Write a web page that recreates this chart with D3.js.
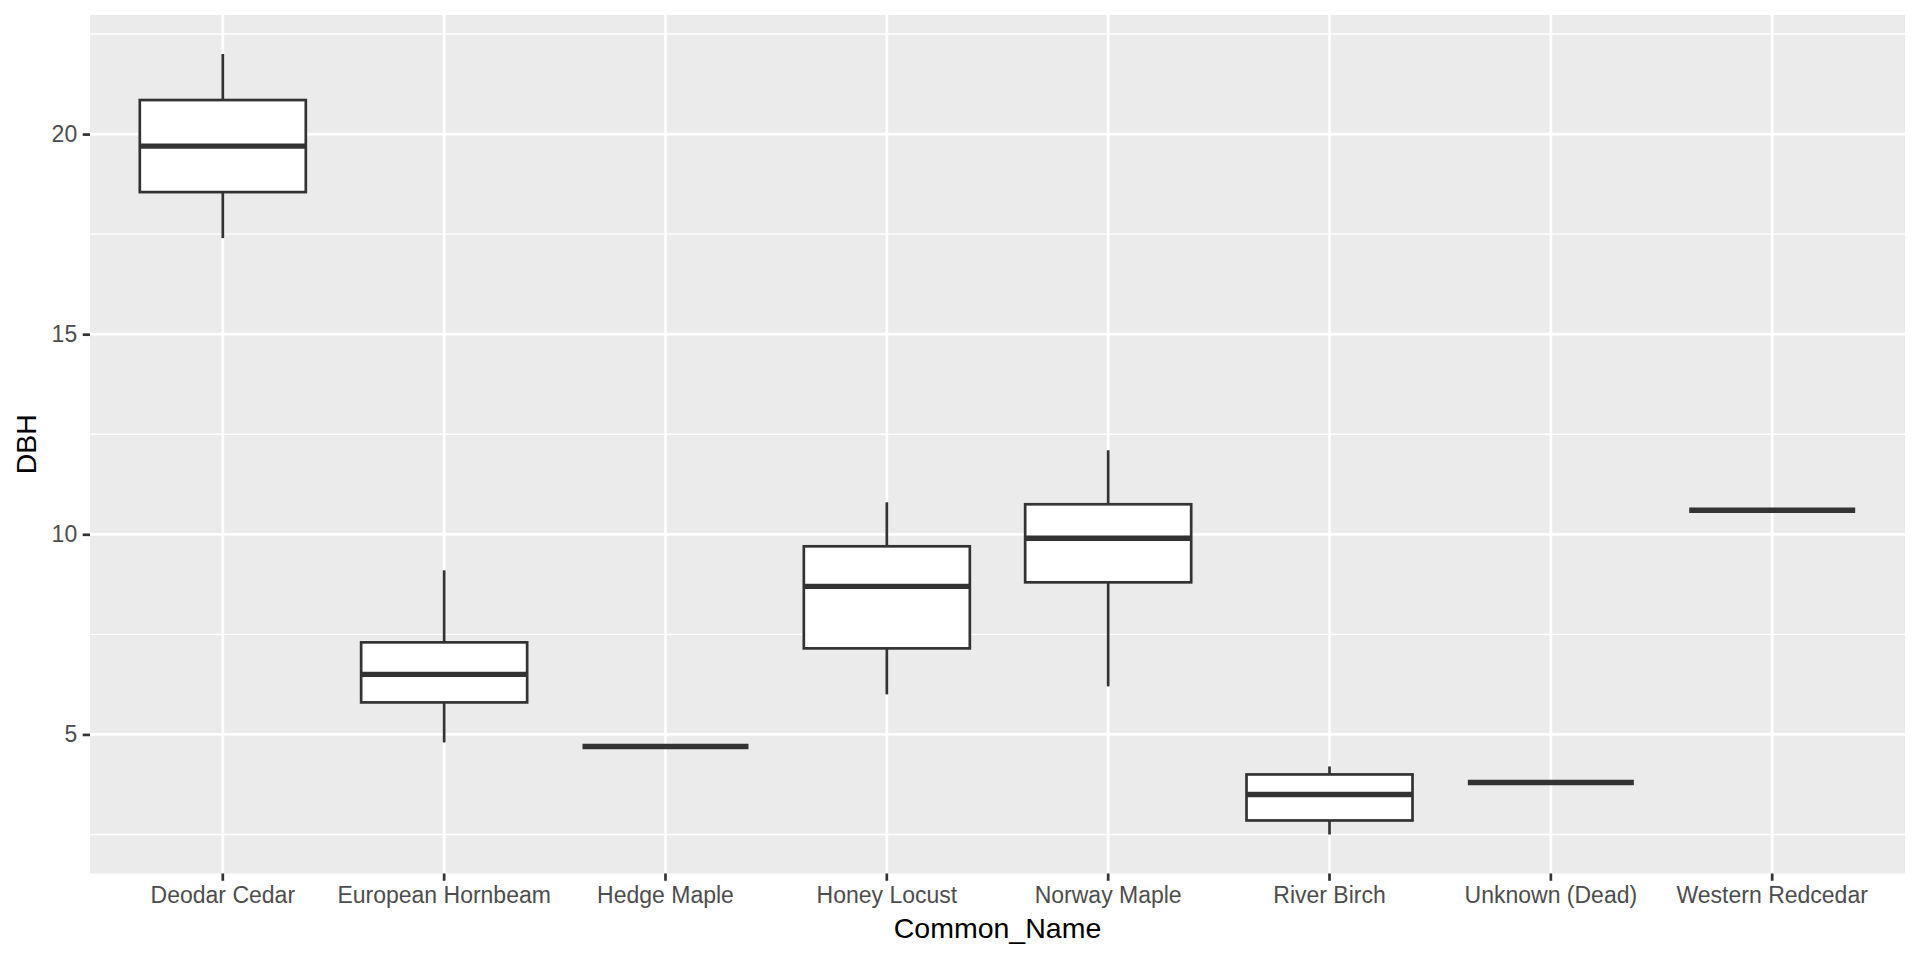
<!DOCTYPE html>
<html>
<head>
<meta charset="utf-8">
<script src="https://cdn.jsdelivr.net/npm/d3@7"></script>
<style>
  html, body { margin: 0; padding: 0; background: #ffffff; }
  svg { display: block; }
  text { font-family: "Liberation Sans", Arial, Helvetica, sans-serif; }
</style>
</head>
<body>
<svg id="chart" width="1920" height="960"></svg>
<script>
// ---- data ----
const categories = ["Deodar Cedar", "European Hornbeam", "Hedge Maple", "Honey Locust",
                    "Norway Maple", "River Birch", "Unknown (Dead)", "Western Redcedar"];
const whiskerLow  = [17.4, 4.8, 4.7, 6.0, 6.2, 2.5, 3.8, 10.6];
const q1Values    = [18.55, 5.8, 4.7, 7.15, 8.8, 2.85, 3.8, 10.6];
const medianValues= [19.7, 6.5, 4.7, 8.7, 9.9, 3.5, 3.8, 10.6];
const q3Values    = [20.85, 7.3, 4.7, 9.7, 10.75, 4.0, 3.8, 10.6];
const whiskerHigh = [22.0, 9.1, 4.7, 10.8, 12.1, 4.2, 3.8, 10.6];
const yTicks      = [5, 10, 15, 20];
const yMinorTicks = [2.5, 7.5, 12.5, 17.5, 22.5];
const xTitle = "Common_Name";
const yTitle = "DBH";

// ---- layout ----
const svg = d3.select("#chart");
const panel = { left: 90, right: 1905, top: 15, bottom: 873.5 };

const boxes = categories.map((c, i) => ({
  cat: c, lo: whiskerLow[i], q1: q1Values[i], med: medianValues[i],
  q3: q3Values[i], hi: whiskerHigh[i]
}));

const dataMin = d3.min(whiskerLow), dataMax = d3.max(whiskerHigh);
const pad = (dataMax - dataMin) * 0.05;

const x = d3.scaleBand()
  .domain(categories)
  .range([panel.left, panel.right])
  .paddingInner(0)
  .paddingOuter(0.1);
// ggplot discrete expansion: 0.6 units each side
const step = (panel.right - panel.left) / (categories.length - 1 + 1.2);
const xc = c => panel.left + 0.6 * step + categories.indexOf(c) * step;

const y = d3.scaleLinear()
  .domain([dataMin - pad, dataMax + pad])
  .range([panel.bottom, panel.top]);

// panel background
svg.append("rect")
  .attr("x", panel.left).attr("y", panel.top)
  .attr("width", panel.right - panel.left)
  .attr("height", panel.bottom - panel.top)
  .attr("fill", "#EBEBEB");

// minor gridlines
svg.append("g").selectAll("line").data(yMinorTicks).join("line")
  .attr("x1", panel.left).attr("x2", panel.right)
  .attr("y1", d => y(d)).attr("y2", d => y(d))
  .attr("stroke", "#ffffff").attr("stroke-width", 1.35);

// major gridlines
svg.append("g").selectAll("line").data(yTicks).join("line")
  .attr("x1", panel.left).attr("x2", panel.right)
  .attr("y1", d => y(d)).attr("y2", d => y(d))
  .attr("stroke", "#ffffff").attr("stroke-width", 2.7);
svg.append("g").selectAll("line").data(categories).join("line")
  .attr("x1", d => xc(d)).attr("x2", d => xc(d))
  .attr("y1", panel.top).attr("y2", panel.bottom)
  .attr("stroke", "#ffffff").attr("stroke-width", 2.7);

// boxplots
const bw = step * 0.75;
const gBox = svg.append("g");
const line = "#333333";
boxes.forEach(b => {
  const cx = xc(b.cat);
  const g = gBox.append("g");
  g.append("line").attr("x1", cx).attr("x2", cx)
    .attr("y1", y(b.hi)).attr("y2", y(b.q3))
    .attr("stroke", line).attr("stroke-width", 2.7);
  g.append("line").attr("x1", cx).attr("x2", cx)
    .attr("y1", y(b.q1)).attr("y2", y(b.lo))
    .attr("stroke", line).attr("stroke-width", 2.7);
  g.append("rect")
    .attr("x", cx - bw / 2).attr("width", bw)
    .attr("y", y(b.q3)).attr("height", Math.max(0, y(b.q1) - y(b.q3)))
    .attr("fill", "#ffffff").attr("stroke", line).attr("stroke-width", 2.7);
  g.append("line")
    .attr("x1", cx - bw / 2).attr("x2", cx + bw / 2)
    .attr("y1", y(b.med)).attr("y2", y(b.med))
    .attr("stroke", line).attr("stroke-width", 5.4);
});

// y axis
const yAxis = d3.axisLeft(y).tickValues(yTicks).tickSize(7.3).tickPadding(5.5)
  .tickFormat(d3.format("d"));
const gy = svg.append("g").attr("transform", `translate(${panel.left},0)`).call(yAxis);
gy.select(".domain").remove();
gy.selectAll(".tick line").attr("stroke", "#333333").attr("stroke-width", 2.7);
gy.selectAll(".tick text").attr("fill", "#4D4D4D")
  .style("font-size", "23px")
  .attr("font-family", "Liberation Sans, Arial, sans-serif");

// x axis
const xAxis = d3.axisBottom(x).tickSize(7.3).tickPadding(6);
const gx = svg.append("g").attr("transform", `translate(0,${panel.bottom})`).call(xAxis);
gx.select(".domain").remove();
gx.selectAll(".tick").attr("transform", d => `translate(${xc(d)},0)`);
gx.selectAll(".tick line").attr("stroke", "#333333").attr("stroke-width", 2.7);
gx.selectAll(".tick text").attr("fill", "#4D4D4D")
  .style("font-size", "23px")
  .attr("font-family", "Liberation Sans, Arial, sans-serif");

// axis titles
svg.append("text")
  .attr("x", (panel.left + panel.right) / 2).attr("y", 937.5)
  .attr("text-anchor", "middle")
  .attr("fill", "#000000")
  .style("font-size", "28.5px")
  .text(xTitle);

svg.append("text")
  .attr("transform", `translate(36,${(panel.top + panel.bottom) / 2}) rotate(-90)`)
  .attr("text-anchor", "middle")
  .attr("fill", "#000000")
  .style("font-size", "28.5px")
  .text(yTitle);
</script>
</body>
</html>
